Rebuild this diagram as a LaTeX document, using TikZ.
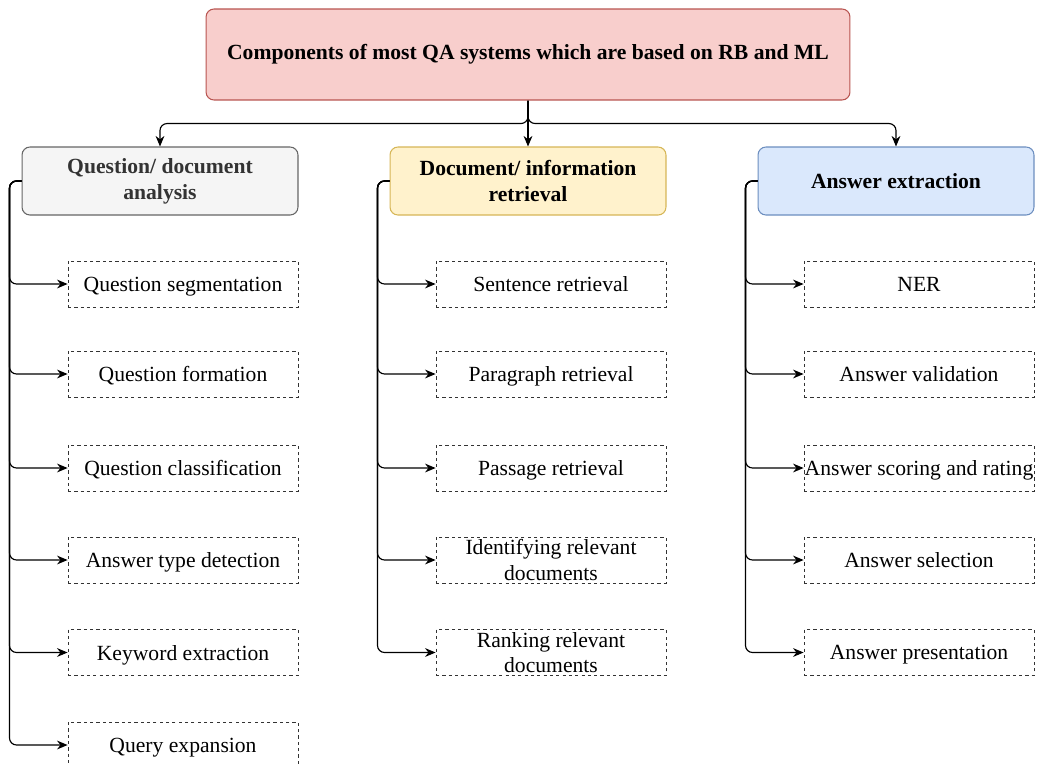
\documentclass[tikz,border=0pt]{standalone}
\usepackage{fontspec}
\setmainfont{Liberation Serif}
\usepackage{tikz}
\usetikzlibrary{arrows.meta}
\definecolor{pinkfill}{HTML}{F8CECC}
\definecolor{pinkline}{HTML}{B85450}
\definecolor{greyfill}{HTML}{F5F5F5}
\definecolor{greyline}{HTML}{666666}
\definecolor{greytext}{HTML}{333333}
\definecolor{yellowfill}{HTML}{FFF2CC}
\definecolor{yellowline}{HTML}{D6B656}
\definecolor{bluefill}{HTML}{DAE8FC}
\definecolor{blueline}{HTML}{6C8EBF}
\newcommand{\boxfont}{\fontsize{12.3}{14.6}\selectfont}
\tikzstyle{topbox}=[draw=pinkline, fill=pinkfill, line width=0.6pt, rounded corners=4.5pt,
  minimum width=12.88cm, minimum height=1.82cm, font=\boxfont\bfseries]
\tikzstyle{catbox}=[line width=0.6pt, rounded corners=4.5pt, align=center,
  minimum width=5.52cm, minimum height=1.36cm, font=\boxfont\bfseries]
\tikzstyle{itembox}=[draw=black!80, line width=0.5pt, dash pattern=on 1.8pt off 1.8pt, align=center,
  minimum width=4.6cm, minimum height=0.92cm, inner sep=0pt, text depth=0pt, font=\boxfont]
\tikzstyle{link}=[->, line width=0.65pt, rounded corners=4pt]

\begin{document}
\begin{tikzpicture}[>={Stealth[length=6pt,width=5pt]}, x=0.02cm, y=-0.02cm]
        \useasboundingbox (0,0) rectangle (1047,765);
        \node[topbox] (top) at (528,54.5) {Components of most QA systems which are based on RB and ML};
        \node[catbox, draw=greyline, fill=greyfill, text=greytext] (qda) at (160,181) {Question/ document\\analysis};
        \node[catbox, draw=yellowline, fill=yellowfill] (dir) at (528,181) {Document/ information\\retrieval};
        \node[catbox, draw=blueline, fill=bluefill] (ae) at (896,181) {Answer extraction};
        % question / document analysis
        \node[itembox] (q1) at (183,284) {Question segmentation};
        \node[itembox] (q2) at (183,374) {Question formation};
        \node[itembox] (q3) at (183,468) {Question classification};
        \node[itembox] (q4) at (183,560) {Answer type detection};
        \node[itembox] (q5) at (183,652.5) {Keyword extraction};
        \node[itembox] (q6) at (183,745) {Query expansion};
        % document / information retrieval
        \node[itembox] (d1) at (551,284) {Sentence retrieval};
        \node[itembox] (d2) at (551,374) {Paragraph retrieval};
        \node[itembox] (d3) at (551,468) {Passage retrieval};
        \node[itembox] (d4) at (551,560) {Identifying relevant\\documents};
        \node[itembox] (d5) at (551,652.5) {Ranking relevant\\documents};
        % answer extraction
        \node[itembox] (a1) at (919,284) {NER};
        \node[itembox] (a2) at (919,374) {Answer validation};
        \node[itembox] (a3) at (919,468) {Answer scoring and rating};
        \node[itembox] (a4) at (919,560) {Answer selection};
        \node[itembox] (a5) at (919,652.5) {Answer presentation};
        % links
        \draw[link] (top.south) -- ++(0,23) -| (qda.north);
        \draw[link] (top.south) -- (dir.north);
        \draw[link] (top.south) -- ++(0,23) -| (ae.north);
        \draw[link] (qda.west) -- ++(-12,0) |- (q1.west);
        \draw[link] (qda.west) -- ++(-12,0) |- (q2.west);
        \draw[link] (qda.west) -- ++(-12,0) |- (q3.west);
        \draw[link] (qda.west) -- ++(-12,0) |- (q4.west);
        \draw[link] (qda.west) -- ++(-12,0) |- (q5.west);
        \draw[link] (qda.west) -- ++(-12,0) |- (q6.west);
        \draw[link] (dir.west) -- ++(-12,0) |- (d1.west);
        \draw[link] (dir.west) -- ++(-12,0) |- (d2.west);
        \draw[link] (dir.west) -- ++(-12,0) |- (d3.west);
        \draw[link] (dir.west) -- ++(-12,0) |- (d4.west);
        \draw[link] (dir.west) -- ++(-12,0) |- (d5.west);
        \draw[link] (ae.west) -- ++(-12,0) |- (a1.west);
        \draw[link] (ae.west) -- ++(-12,0) |- (a2.west);
        \draw[link] (ae.west) -- ++(-12,0) |- (a3.west);
        \draw[link] (ae.west) -- ++(-12,0) |- (a4.west);
        \draw[link] (ae.west) -- ++(-12,0) |- (a5.west);
\end{tikzpicture}
\end{document}
